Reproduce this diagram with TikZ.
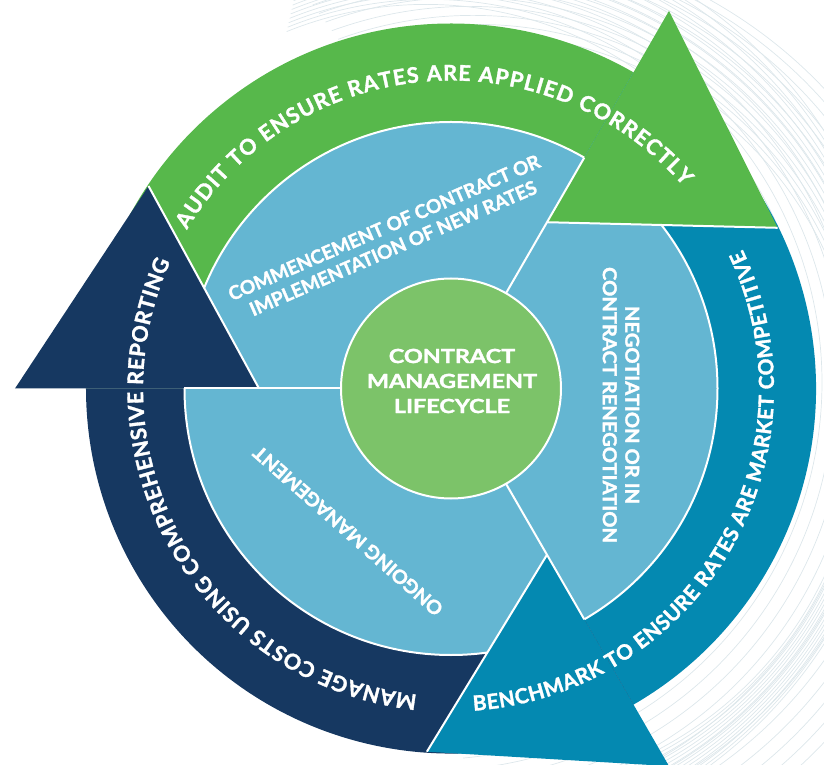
\documentclass[tikz,border=0pt]{standalone}
\usepackage{fontspec}
\setmainfont{Lato}
\newfontfamily\hv{Lato}[FakeBold=1.6]
\usetikzlibrary{decorations.text}
\definecolor{bandgreen}{HTML}{57B84B}
\definecolor{bandteal}{HTML}{0489B1}
\definecolor{bandnavy}{HTML}{163861}
\definecolor{segblue}{HTML}{64B6D2}
\definecolor{coregreen}{HTML}{7CC369}
\definecolor{bgline}{HTML}{DDE7EB}
\newcommand{\bandfont}{\hv\bfseries\fontsize{21.5}{24}\selectfont\color{white}}
\newcommand{\bandfontsm}{\hv\bfseries\fontsize{20.8}{24}\selectfont\color{white}}
\begin{document}
\begin{tikzpicture}[x=1pt,y=1pt,
  wline/.style={draw=white,line width=2pt},
  meshline/.style={draw=bgline,line width=0.7pt},
  ctext/.style={align=center,text=white,font=\hv\bfseries\fontsize{19.5}{25}\selectfont,inner sep=0pt},
  stext/.style={align=center,text=white,font=\hv\bfseries\fontsize{19}{22.5}\selectfont,inner sep=0pt},
  bandtext/.style={decorate,decoration={text along path,text align={fit to path},text={#1}}}
]
\useasboundingbox (-451,-376.5) rectangle (373,388.5);
\clip (-451,-376.5) rectangle (373,388.5);

% faint background mesh
\foreach \i in {0,...,13} {
  \draw[meshline] ({-25+4*\i},{12-3*\i}) ++(112:{372+8*\i}) arc[start angle=112,end angle=-85,radius={372+8*\i}];
  \draw[meshline] ({30-4*\i},{-25+2*\i}) ++(110:{380+7*\i}) arc[start angle=110,end angle=-88,radius={380+7*\i}];
}

\coordinate (O) at (0,0);
% light blue ring of segments
\fill[segblue] (O) circle (266.5);

% bands
\fill[bandgreen] (180:365) arc[start angle=180,end angle=60,radius=365] -- (60:266.5) arc[start angle=60,end angle=180,radius=266.5] -- cycle;
\fill[bandteal] (60:365) arc[start angle=60,end angle=-60,radius=365] -- (-60:266.5) arc[start angle=-60,end angle=60,radius=266.5] -- cycle;
\fill[bandnavy] (-60:365) arc[start angle=-60,end angle=-180,radius=365] -- (-180:266.5) arc[start angle=-180,end angle=-60,radius=266.5] -- cycle;
\draw[wline] (O) circle (266.5);

% arrow heads
\foreach \b/\c/\n in {60/bandgreen/g,-60/bandteal/t,180/bandnavy/n} {
  \coordinate (\n in) at (\b:192);
  \coordinate (\n out) at (\b:436);
  \coordinate (\n tip) at ({\b-33.8}:364);
  \coordinate (\n a) at (\b:110);
  \coordinate (\n b) at (\b:266.5);
  \fill[\c] (\n in) -- (\n out) -- (\n tip) -- cycle;
}
\foreach \n in {g,t,n} {
  \draw[wline] (\n in) -- (\n tip);
  \draw[wline] (\n a) -- (\n b);
}

% centre
\fill[coregreen] (O) circle (110);
\draw[wline] (O) circle (110);
\node[ctext,xscale=1.2] (ctr) at (1,7.5) {CONTRACT\\MANAGEMENT\\LIFECYCLE};

% segment labels
\node[stext,rotate=23.5] (comm) at (-62.4,150.6) {COMMENCEMENT OF CONTRACT OR\\IMPLEMENTATION OF NEW RATES};
\node[stext,rotate=-90,xscale=1.06] (nego) at (170,-16.5) {NEGOTIATION OR IN\\CONTRACT RENEGOTIATION};
\node[stext,rotate=138.6,xscale=1.04] (ongo) at (-103,-142.5) {ONGOING MANAGEMENT};

% band labels
\path[bandtext={|\bandfont|AUDIT TO ENSURE RATES ARE APPLIED CORRECTLY}] (149:308) arc[start angle=149,end angle=41,radius=308];
\path[bandtext={|\bandfontsm|BENCHMARK TO ENSURE RATES ARE MARKET COMPETITIVE}] (274:323) arc[start angle=274,end angle=385.5,radius=323];
\path[bandtext={|\bandfont|MANAGE COSTS USING COMPREHENSIVE REPORTING}] (263.7:308) arc[start angle=263.7,end angle=155.7,radius=308];
\end{tikzpicture}
\end{document}
